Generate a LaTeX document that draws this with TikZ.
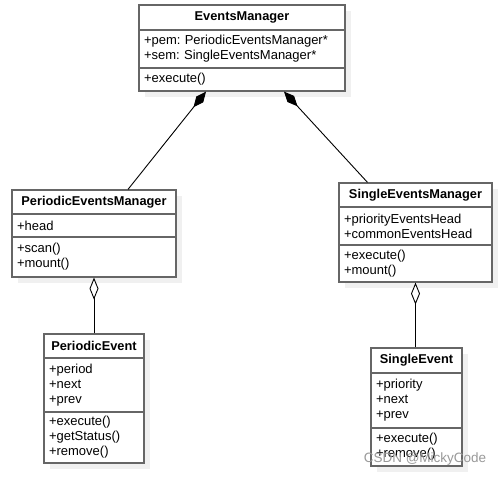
\documentclass[tikz,border=0pt]{standalone}
\usepackage{fontspec}
\setmainfont{Liberation Sans}
\usetikzlibrary{arrows.meta,shadows}
\frenchspacing

\begin{document}
\begin{tikzpicture}[x=1pt,y=-1pt,
    classbox/.style={draw=umlgray,fill=white,line width=1.2pt,inner ysep=0pt,
      drop shadow={shadow xshift=6pt,shadow yshift=-6pt,fill=umlshadow,opacity=1}},
    classhead/.style={classbox,font=\fontsize{12.8}{15}\selectfont\bfseries},
    classbody/.style={classbox,font=\fontsize{13}{15}\selectfont,align=left,inner xsep=5pt},
    composite/.style={draw=black,line width=0.9pt,-{Diamond[length=20pt,width=9pt]}},
    aggregate/.style={draw=black,line width=0.9pt,-{Diamond[open,fill=white,length=22pt,width=9pt]}}]
    \definecolor{umlgray}{RGB}{102,102,102}
    \definecolor{umlshadow}{RGB}{240,240,240}
    \useasboundingbox[fill=white] (0,0) rectangle (503,477);

    % EventsManager
    \node[classhead,minimum width=206pt,minimum height=25pt] (emHead) at (242,17.5) {EventsManager};
    \node[classbody,text width=196pt,minimum height=38pt] (emAttr) at (242,49) {+pem: PeriodicEventsManager*\\+sem: SingleEventsManager*};
    \node[classbody,text width=196pt,minimum height=23pt] (emOps) at (242,79.5) {+execute()};

    % PeriodicEventsManager
    \node[classhead,minimum width=164pt,minimum height=24pt] (pemHead) at (94,202) {PeriodicEventsManager};
    \node[classbody,text width=154pt,minimum height=23pt] (pemAttr) at (94,225.5) {+head};
    \node[classbody,text width=154pt,minimum height=40pt] (pemOps) at (94,257) {+scan()\\+mount()};

    % SingleEventsManager
    \node[classhead,minimum width=153pt,minimum height=24pt] (semHead) at (415.5,195) {SingleEventsManager};
    \node[classbody,text width=143pt,minimum height=38pt] (semAttr) at (415.5,226) {+priorityEventsHead\\+commonEventsHead};
    \node[classbody,text width=143pt,minimum height=37pt] (semOps) at (415.5,263.5) {+execute()\\+mount()};

    % PeriodicEvent
    \node[classhead,minimum width=100pt,minimum height=24pt] (peHead) at (94,346) {PeriodicEvent};
    \node[classbody,text width=90pt,minimum height=54pt] (peAttr) at (94,385) {+period\\+next\\+prev};
    \node[classbody,text width=90pt,minimum height=51pt] (peOps) at (94,437.5) {+execute()\\+getStatus()\\+remove()};

    % SingleEvent
    \node[classhead,minimum width=91pt,minimum height=25pt] (seHead) at (416.5,360.5) {SingleEvent};
    \node[classbody,text width=81pt,minimum height=55pt] (seAttr) at (416.5,400.5) {+priority\\+next\\+prev};
    \node[classbody,text width=81pt,minimum height=38pt] (seOps) at (416.5,447) {+execute()\\+remove()};

    % relations
    \draw[composite] ([xshift=34pt]pemHead.north) -- ([xshift=-36pt]emOps.south);
    \draw[composite] ([xshift=-48pt]semHead.north) -- ([xshift=42pt]emOps.south);
    \draw[aggregate] (peHead.north) -- (pemOps.south);
    \draw[aggregate] (seHead.north -| semOps.south) -- (semOps.south);

    \node[text=black!40,font=\fontsize{13.5}{16}\selectfont] (mark) at (425,459) {CSDN @MickyCode};
\end{tikzpicture}
\end{document}
